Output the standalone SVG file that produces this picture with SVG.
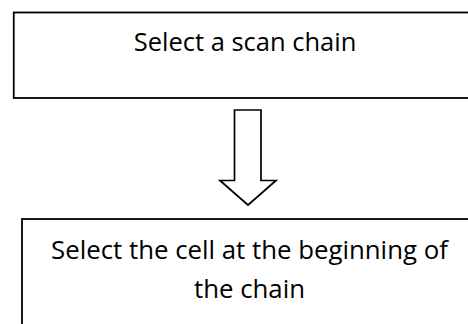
<svg xmlns="http://www.w3.org/2000/svg" width="468" height="324" viewBox="0 0 468 324">
  <style>
    .box { fill: #ffffff; stroke: #000000; stroke-width: 1.8; }
    .label { font-family: "Open Sans", "Liberation Sans", sans-serif; font-size: 25.5px; fill: #000000; text-anchor: middle; }
    .wide { font-size: 25.8px; }
    .flow { fill: #ffffff; stroke: #000000; stroke-width: 1.7; stroke-linejoin: miter; }
  </style>
  <rect width="468" height="324" fill="#ffffff"/>

  <g id="step-select-chain">
    <rect class="box" x="13.75" y="12.5" width="470" height="85.5"/>
    <text class="label" x="245" y="51">Select a scan chain</text>
  </g>

  <g id="connectors">
    <!-- block arrow from the first step down to the second -->
    <polygon class="flow" points="234.5,110 261,110 261,180.5 276,180.5 248,205 220,180.5 234.5,180.5"/>
  </g>

  <g id="step-select-cell">
    <rect class="box" x="22" y="219" width="470" height="120"/>
    <text class="label wide" x="249.5" y="259">Select the cell at the beginning of</text>
    <text class="label wide" x="249.5" y="298">the chain</text>
  </g>
</svg>
